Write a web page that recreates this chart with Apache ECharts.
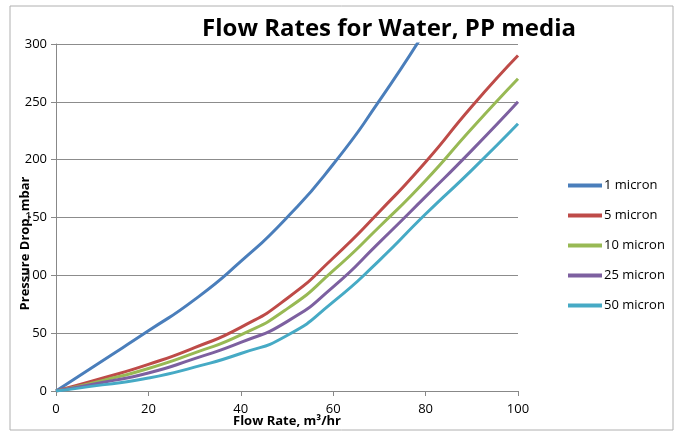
<!DOCTYPE html>
<html>
<head>
<meta charset="utf-8">
<script src="https://cdn.jsdelivr.net/npm/echarts@6/dist/echarts.min.js"></script>
<style>
  html, body { margin: 0; padding: 0; background: #fff; }
  #chart { width: 682px; height: 432px; }
</style>
</head>
<body>
<div id="chart"></div>
<script>
const flow = [0, 10, 20, 30, 40, 50, 60, 70, 80, 90, 100];
const seriesNames = ['1 micron', '5 micron', '10 micron', '25 micron', '50 micron'];
const micron1 = [0, 26, 52, 79, 112, 150, 196, 251, 312];
const micron5 = [0, 11, 23, 37.5, 55, 80, 115, 155, 198, 246, 290];
const micron10 = [0, 9, 19.5, 33, 48.5, 71, 104, 142, 182, 227, 270];
const micron25 = [0, 7.4, 15.6, 28, 42, 60, 90, 128.5, 168, 208, 250];
const micron50 = [0, 5.3, 11.2, 20.6, 32.4, 48, 77, 113, 153, 191, 231];
const colors = ['#4A7EBB', '#BE4B48', '#98B954', '#7D60A0', '#46AAC5'];

const allValues = [micron1, micron5, micron10, micron25, micron50];
const font = 'Open Sans';

const chart = echarts.init(document.getElementById('chart'));
chart.setOption({
  animation: false,
  color: colors,
  title: {
    text: 'Flow Rates for Water, PP media',
    left: 384,
    textAlign: 'center',
    top: 12,
    textStyle: { fontFamily: font, fontWeight: 'bold', fontSize: 24, color: '#000' }
  },
  graphic: [{
    type: 'rect',
    shape: { x: 10, y: 6, width: 663, height: 424 },
    style: { fill: 'none', stroke: '#b0b0b0', lineWidth: 1 },
    silent: true
  }],
  legend: {
    orient: 'vertical',
    left: 563,
    top: 174,
    itemGap: 17,
    itemWidth: 34,
    itemHeight: 4,
    icon: 'rect',
    textStyle: { fontFamily: font, fontSize: 13, color: '#000', padding: [0, 0, 0, -3] },
    data: seriesNames
  },
  grid: { left: 56, right: 164, top: 44, bottom: 41, outerBoundsMode: 'none' },
  xAxis: {
    type: 'value',
    min: 0, max: 100, interval: 20,
    name: 'Flow Rate, m³/hr',
    nameLocation: 'middle',
    nameGap: 24,
    nameMoveOverlap: false,
    nameTextStyle: { fontFamily: font, fontWeight: 'bold', fontSize: 13, color: '#000' },
    axisLine: { show: true, lineStyle: { color: '#888', width: 1 } },
    axisTick: { show: true, length: 5, lineStyle: { color: '#888' } },
    axisLabel: { fontFamily: font, fontSize: 13, color: '#000', margin: 12 },
    splitLine: { show: false }
  },
  yAxis: {
    type: 'value',
    min: 0, max: 300, interval: 50,
    name: 'Pressure Drop, mbar',
    nameLocation: 'middle',
    nameGap: 24,
    nameMoveOverlap: false,
    nameTextStyle: { fontFamily: font, fontWeight: 'bold', fontSize: 13, color: '#000', padding: [0, 52, 0, 0] },
    axisLine: { show: true, lineStyle: { color: '#888', width: 1 } },
    axisTick: { show: true, length: 5, lineStyle: { color: '#888' } },
    axisLabel: { fontFamily: font, fontSize: 13, color: '#000', margin: 9 },
    splitLine: { show: true, lineStyle: { color: '#8c8c8c', width: 1 } }
  },
  series: seriesNames.map((name, i) => ({
    name: name,
    type: 'line',
    smooth: 0.6,
    symbol: 'none',
    clip: true,
    lineStyle: { width: 3 },
    data: allValues[i].map((v, j) => [flow[j], v])
  }))
});
</script>
</body>
</html>
